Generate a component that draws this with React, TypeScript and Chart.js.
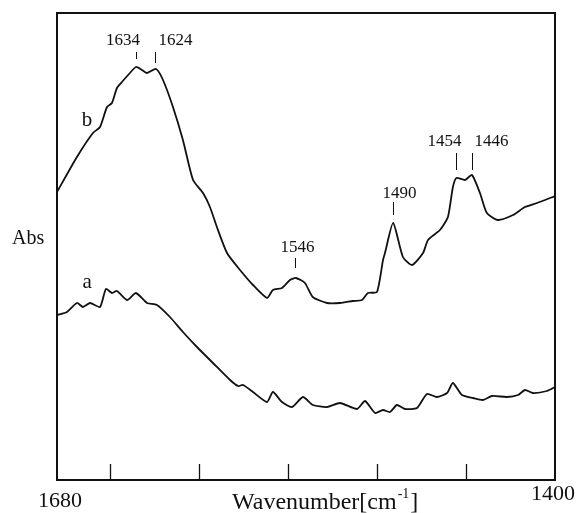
import React, { useEffect, useRef } from "react";
import { Chart, registerables } from "chart.js";

Chart.register(...registerables);

// Wavenumber (cm^-1) and absorbance (arbitrary units)
const waveB = [1680, 1668.8, 1659.8, 1655.8, 1651.9, 1649.1, 1646.3, 1643.5, 1639.0, 1635.6, 1632.2, 1629.4, 1624.3, 1620.4, 1614.8, 1609.2, 1603.5, 1597.9, 1594.0, 1590.1, 1584.4, 1577.1, 1569.8, 1561.9, 1558.6, 1553.5, 1549.0, 1545.6, 1540.6, 1536.2, 1528.2, 1520.9, 1513.6, 1508.5, 1505.2, 1500.1, 1496.7, 1495.6, 1491.0, 1485.5, 1480.4, 1474.2, 1471.4, 1464.7, 1460.2, 1457.4, 1455.4, 1450.6, 1446.7, 1442.2, 1438.3, 1432.1, 1423.6, 1416.9, 1410.1, 1400];
const absB = [2.88, 3.23, 3.47, 3.53, 3.73, 3.77, 3.92, 3.98, 4.07, 4.13, 4.10, 4.07, 4.11, 4.0, 3.73, 3.40, 3.0, 2.87, 2.73, 2.53, 2.27, 2.10, 1.95, 1.82, 1.90, 1.92, 2.0, 2.02, 1.97, 1.83, 1.77, 1.77, 1.79, 1.80, 1.87, 1.88, 2.20, 2.27, 2.57, 2.23, 2.15, 2.27, 2.40, 2.50, 2.63, 2.93, 3.02, 3.0, 3.05, 2.87, 2.67, 2.60, 2.65, 2.73, 2.77, 2.84];

const waveA = [1680, 1674.4, 1668.8, 1665.4, 1661.4, 1655.8, 1652.5, 1649.1, 1646.3, 1640.6, 1635.6, 1629.4, 1623.8, 1616.5, 1609.2, 1601.3, 1592.3, 1582.7, 1578.2, 1575.4, 1569.8, 1561.9, 1558.6, 1553.5, 1547.9, 1541.7, 1536.1, 1528.2, 1520.9, 1511.3, 1506.8, 1501.2, 1496.7, 1492.8, 1488.9, 1484.4, 1477.6, 1472.0, 1466.4, 1460.7, 1457.4, 1452.3, 1446.1, 1440.5, 1435.4, 1427.0, 1420.8, 1416.9, 1412.4, 1404.5, 1400];
const absA = [1.65, 1.68, 1.77, 1.73, 1.77, 1.73, 1.91, 1.87, 1.89, 1.80, 1.87, 1.77, 1.75, 1.63, 1.48, 1.33, 1.17, 1.0, 0.94, 0.95, 0.88, 0.78, 0.88, 0.78, 0.73, 0.83, 0.75, 0.73, 0.77, 0.71, 0.79, 0.67, 0.70, 0.68, 0.75, 0.71, 0.72, 0.86, 0.83, 0.87, 0.97, 0.85, 0.82, 0.80, 0.84, 0.83, 0.85, 0.90, 0.87, 0.89, 0.93];

const xTicks = [1650, 1600, 1550, 1500, 1450];
const xTickLabels = ["1680", "1400"];
const peakLabels = ["1634", "1624", "1546", "1490", "1454", "1446"];
const peakWaves = [1635.6, 1624.9, 1546.2, 1491.1, 1455.7, 1446.7];

const FONT = '"Liberation Serif", "DejaVu Serif", serif';

const peakStyle = [
  { dx: -13.5, base: 4.35, t0: 4.28, t1: 4.21 },
  { dx: 20, base: 4.35, t0: 4.28, t1: 4.17 },
  { dx: 2, base: 2.28, t0: 2.22, t1: 2.12 },
  { dx: 6, base: 2.82, t0: 2.78, t1: 2.65 },
  { dx: -12, base: 3.34, t0: 3.27, t1: 3.1 },
  { dx: 19, base: 3.34, t0: 3.27, t1: 3.1 },
];

const decorPlugin = {
  id: "decor",
  afterDraw(chart: any) {
    const { ctx, chartArea: a, scales } = chart;
    const xs = scales.x;
    const ys = scales.y;
    ctx.save();
    ctx.strokeStyle = "#111";
    ctx.fillStyle = "#111";
    // frame
    ctx.lineWidth = 2;
    ctx.strokeRect(a.left, a.top, a.right - a.left, a.bottom - a.top);
    // inward ticks
    ctx.lineWidth = 1.3;
    xTicks.forEach((v) => {
      const px = Math.round(xs.getPixelForValue(v)) + 0.5;
      ctx.beginPath();
      ctx.moveTo(px, a.bottom);
      ctx.lineTo(px, a.bottom - 16);
      ctx.stroke();
    });
    // peak labels
    ctx.font = `17px ${FONT}`;
    ctx.textAlign = "center";
    ctx.textBaseline = "alphabetic";
    ctx.lineWidth = 1;
    peakLabels.forEach((t, i) => {
      const st = peakStyle[i];
      const px = Math.round(xs.getPixelForValue(peakWaves[i])) + 0.5;
      ctx.fillText(t, px + st.dx, ys.getPixelForValue(st.base));
      ctx.beginPath();
      ctx.moveTo(px, ys.getPixelForValue(st.t0));
      ctx.lineTo(px, ys.getPixelForValue(st.t1));
      ctx.stroke();
    });
    // curve labels
    ctx.font = `21px ${FONT}`;
    ctx.fillText("b", xs.getPixelForValue(1663.1), ys.getPixelForValue(3.54));
    ctx.fillText("a", xs.getPixelForValue(1663.1), ys.getPixelForValue(1.92));
    // axis labels
    ctx.font = `20px ${FONT}`;
    ctx.textAlign = "left";
    ctx.fillText("Abs", 12, 244);
    ctx.font = `22px ${FONT}`;
    ctx.textAlign = "center";
    ctx.fillText(xTickLabels[0], 60, 507);
    ctx.fillText(xTickLabels[1], 553, 500);
    // x title
    ctx.textAlign = "left";
    ctx.font = `24px ${FONT}`;
    let x = 232;
    const t1 = "Wavenumber[cm";
    ctx.fillText(t1, x, 509);
    x += ctx.measureText(t1).width;
    ctx.font = `14px ${FONT}`;
    ctx.fillText("-1", x + 1, 498);
    x += ctx.measureText("-1").width + 2;
    ctx.font = `24px ${FONT}`;
    ctx.fillText("]", x, 509);
    ctx.restore();
  },
};

export default function App() {
  const ref = useRef<HTMLCanvasElement>(null);
  useEffect(() => {
    if (!ref.current) return;
    const chart = new Chart(ref.current, {
      type: "line",
      data: {
        datasets: [
          {
            label: "b",
            data: waveB.map((w, i) => ({ x: w, y: absB[i] })),
            borderColor: "#111",
            borderWidth: 1.8,
            pointRadius: 0,
            tension: 0.2,
            fill: false,
          },
          {
            label: "a",
            data: waveA.map((w, i) => ({ x: w, y: absA[i] })),
            borderColor: "#111",
            borderWidth: 1.8,
            pointRadius: 0,
            tension: 0.2,
            fill: false,
          },
        ],
      },
      options: {
        responsive: false,
        animation: false,
        layout: { padding: { left: 57, right: 22, top: 13, bottom: 33 } },
        plugins: { legend: { display: false }, tooltip: { enabled: false } },
        scales: {
          x: { type: "linear", min: 1400, max: 1680, reverse: true, display: false },
          y: { type: "linear", min: 0, max: 4.67, display: false },
        },
      },
      plugins: [decorPlugin],
    });
    return () => chart.destroy();
  }, []);
  return (
    <div style={{ position: "fixed", left: 0, top: 0, width: 577, height: 513, background: "#fff" }}>
      <canvas ref={ref} width={577} height={513} />
    </div>
  );
}
